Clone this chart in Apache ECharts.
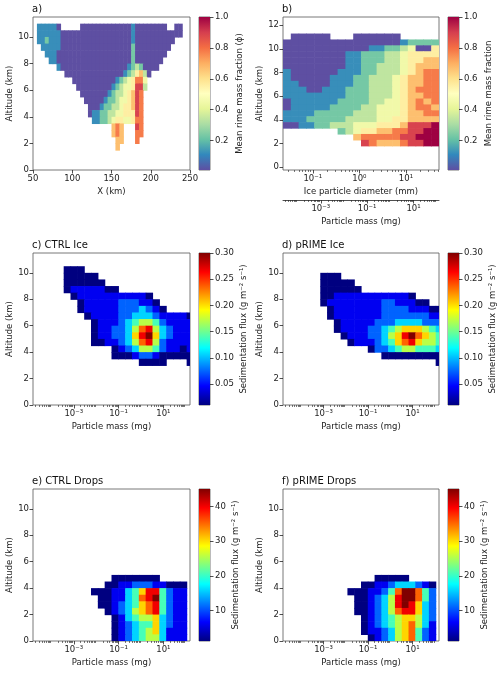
<!DOCTYPE html>
<html>
<head>
<meta charset="UTF-8">
<script src="https://cdn.jsdelivr.net/npm/echarts@6/dist/echarts.min.js"></script>
<style>
  * { margin: 0; padding: 0 }
  html, body { width: 500px; height: 673px; background: #fff; }
  #main { width: 500px; height: 673px; }
</style>
</head>
<body>
<div id="main"></div>
<script>
// ---------- data (digits 0-9 = colour level, '.' = no data, '|' just a separator) ----------
// panel a: columns of 5 km from X=50, rows of 0.5 km, first row starts at 10.5 km
var aRowTop = 10.5;
var aRows = [
  '.111110...|..00000000|0000010000|0000..00..',
  '.111111000|0000000000|0000010000|00000000..',
  '.112111000|0000000000|0000010000|000000....',
  '..11111000|0000000000|0000020000|00000.....',
  '...1110000|0000000000|0000020000|0000......',
  '....110000|0000000000|0000020000|000.......',
  '......1000|0000000000|0000123200|00........',
  '........00|0000000000|0001235630|..........',
  '..........|0000000000|012345774.|..........',
  '..........|.000000000|123445883.|..........',
  '..........|..00000001|23345687..|..........',
  '..........|...0000012|23445687..|..........',
  '..........|....000122|33455687..|..........',
  '..........|....011223|34455587..|..........',
  '..........|.....11223|45544577..|..........',
  '..........|..........|676...87..|..........',
  '..........|..........|676...77..|..........',
  '..........|..........|.66...7...|..........',
  '..........|..........|.6........|..........'
];
// panel b: 20 diameter bins (log10 mm), rows of 0.5 km, first row starts at 10.8 km
var bRowTop = 10.8;
var bRows = [
  '.00000...000000.....',
  '00000000000000012222',
  '00000000000112234005',
  '00000000112223345555',
  '00000000112223345566',
  '00000000112233345666',
  '10000001112233345677',
  '10000011122333456677',
  '11000011122333456677',
  '11100111222333456777',
  '11111111222333456677',
  '01111112222334456767',
  '01111122223344456776',
  '11112222233344456677',
  '11122222333344556666',
  '00112233344455568889',
  '.......2345566778899',
  '.........67777788999',
  '..........8766678899'
];
// panels c-f: 19 mass bins (log10 mg), rows of 0.5 km
var cRowTop = 10.0;
var cRows = [
  '000................',
  '00000..............',
  '000000.............',
  '01111100...........',
  '.011111111110......',
  '..011111222110.....',
  '..0111112223210....',
  '...0111122333211110',
  '....011123455421111',
  '....011223578532111',
  '....011223689632111',
  '....001123578521111',
  '.......012355421101',
  '.......000122100000',
  '...........0000...0'
];
var dRowTop = 9.5;
var dRows = [
  '.000...............',
  '.00000.............',
  '.000000............',
  '.00111111111110....',
  '.0111111112211100..',
  '..01111111222211100',
  '..01111111222222211',
  '...0111112223333222',
  '...0111122345666543',
  '....011122356897654',
  '.....01112346786554',
  '........02234554443',
  '..........000000000',
  '..................0'
];
var eRowTop = 4.5;
var eRows = [
  '.......0000000.....',
  '......001122211000.',
  '....00011346884211.',
  '.....0011347894211.',
  '.....0012346784211.',
  '......012356784211.',
  '.......01345563211.',
  '.......01234463211.',
  '.......01234563111.',
  '.......01234553111.'
];
var fRowTop = 4.5;
var fRows = [
  '.........00000.....',
  '.......00112333210.',
  '.....0001124799742.',
  '......001235899742.',
  '......001235898632.',
  '......001235788632.',
  '.......01234566532.',
  '.......01234567531.',
  '.......01123567421.',
  '........0123567421.'
];

var aTicksX = [50, 100, 150, 200, 250];
var altTicks = [0, 2, 4, 6, 8, 10];
var bAltTicks = [0, 2, 4, 6, 8, 10, 12];
var diamTicks = [-1, 0, 1];
var massTicks = [-3, -1, 1];
var rimeTicks = [0.2, 0.4, 0.6, 0.8, 1.0];
var iceFluxTicks = [0.05, 0.10, 0.15, 0.20, 0.25, 0.30];
var dropFluxTicks = [10, 20, 30, 40];

var spectralR = ['#5e4fa2', '#3288bd', '#66c2a5', '#abdda4', '#e6f598', '#ffffbf',
                 '#fee08b', '#fdae61', '#f46d43', '#d53e4f', '#9e0142'];
var jet = [[0, '#000080'], [0.125, '#0000ff'], [0.375, '#00ffff'],
           [0.625, '#ffff00'], [0.875, '#ff0000'], [1, '#800000']];
var spectralStops = spectralR.map(function (c, i) { return [i / (spectralR.length - 1), c]; });

var FONT = 'DejaVu Sans';

// ---------- helpers ----------
function hex(c) { return [parseInt(c.substr(1, 2), 16), parseInt(c.substr(3, 2), 16), parseInt(c.substr(5, 2), 16)]; }
function cmapColor(stops, t) {
  t = Math.max(0, Math.min(1, t));
  for (var i = 1; i < stops.length; i++) {
    if (t <= stops[i][0]) {
      var a = stops[i - 1], b = stops[i];
      var f = (t - a[0]) / (b[0] - a[0]);
      var ca = hex(a[1]), cb = hex(b[1]);
      return 'rgb(' + ca.map(function (v, k) { return Math.round(v + (cb[k] - v) * f); }).join(',') + ')';
    }
  }
  return stops[stops.length - 1][1];
}
function supStr(n) {
  var m = { '-': '⁻', '0': '⁰', '1': '¹', '2': '²', '3': '³', '4': '⁴', '5': '⁵' };
  return String(n).split('').map(function (ch) { return m[ch]; }).join('');
}
function logLabel(v) { return '10' + supStr(Math.round(v)); }
function minorLog(lo, hi) {
  var out = [];
  for (var d = Math.floor(lo); d <= Math.ceil(hi); d++) {
    for (var k = 2; k <= 9; k++) {
      var v = d + Math.log10(k);
      if (v > lo && v < hi) out.push(v);
    }
  }
  return out;
}
// turn rows of level digits into cells [x0, x1, y0, y1, level]
function cells(rows, rowTop, dy, edges) {
  var out = [];
  rows.forEach(function (r, i) {
    var s = r.replace(/\|/g, '');
    var y0 = rowTop - i * dy;
    for (var j = 0; j < s.length; j++) {
      if (s[j] === '.') continue;
      out.push([edges(j), edges(j + 1), y0, y0 + dy, +s[j]]);
    }
  });
  return out;
}
function cellRenderer(stops) {
  return function (params, api) {
    var p0 = api.coord([api.value(0), api.value(2)]);
    var p1 = api.coord([api.value(1), api.value(3)]);
    var shape = echarts.graphic.clipRectByRect(
      { x: p0[0], y: p1[1], width: p1[0] - p0[0] + 0.6, height: p0[1] - p1[1] + 0.6 },
      { x: params.coordSys.x, y: params.coordSys.y, width: params.coordSys.width, height: params.coordSys.height });
    if (!shape) return;
    return { type: 'rect', shape: shape, style: { fill: cmapColor(stops, api.value(4) / 9) } };
  };
}
function barRenderer(stops) {
  return function (params, api) {
    var p0 = api.coord([0, api.value(0)]);
    var p1 = api.coord([1, api.value(1)]);
    return {
      type: 'rect',
      shape: { x: p0[0], y: p1[1], width: p1[0] - p0[0], height: p0[1] - p1[1] },
      style: { fill: new echarts.graphic.LinearGradient(0, 1, 0, 0,
        stops.map(function (s) { return { offset: s[0], color: s[1] }; })) }
    };
  };
}

var massEdge = function (j) { return -3.45 + 0.305 * j; };
var diamEdge = function (j) { return -1.64 + 0.1675 * j; };
var xEdge = function (j) { return 50 + 5 * j; };

// ---------- option building ----------
var grids = [], xAxes = [], yAxes = [], series = [], titles = [];
var tickStyle = { show: true, inside: false, length: 3.5, lineStyle: { color: '#222', width: 0.8 } };
var labelStyle = { color: '#222', fontFamily: FONT, fontSize: 8.5, margin: 4 };
var nameStyle = { color: '#222', fontFamily: FONT, fontSize: 8.5 };
var noLine = { show: false, onZero: false };

function addGrid(left, top, w, h) {
  grids.push({ left: left, top: top, width: w, height: h, show: true, borderColor: '#555', borderWidth: 0.8 });
  return grids.length - 1;
}
function addAxis(list, obj) { list.push(obj); return list.length - 1; }
function minorAxis(g, lo, hi, offset) {
  return addAxis(xAxes, {
    type: 'value', gridIndex: g, min: lo, max: hi, position: 'bottom', offset: offset || 0,
    axisLine: noLine, splitLine: { show: false }, axisLabel: { show: false },
    axisTick: { show: true, length: 2, customValues: minorLog(lo, hi), lineStyle: { color: '#222', width: 0.6 } }
  });
}

function panel(p) {
  var g = addGrid(p.left, p.top, p.w, p.h);
  var xi = addAxis(xAxes, {
    type: 'value', gridIndex: g, min: p.xmin, max: p.xmax, position: 'bottom',
    name: p.xname, nameLocation: 'middle', nameGap: 17, nameTextStyle: nameStyle,
    axisLine: noLine, splitLine: { show: false },
    axisTick: Object.assign({ customValues: p.xticks }, tickStyle),
    axisLabel: Object.assign({ customValues: p.xticks, formatter: p.xlog ? logLabel : null }, labelStyle)
  });
  if (p.xlog) minorAxis(g, p.xmin, p.xmax, 0);
  var yi = addAxis(yAxes, {
    type: 'value', gridIndex: g, min: p.ymin, max: p.ymax, position: 'left',
    name: 'Altitude (km)', nameLocation: 'middle', nameGap: 17, nameTextStyle: nameStyle,
    axisLine: noLine, splitLine: { show: false },
    axisTick: Object.assign({ customValues: p.yticks }, tickStyle),
    axisLabel: Object.assign({ customValues: p.yticks }, labelStyle)
  });
  series.push({
    type: 'custom', xAxisIndex: xi, yAxisIndex: yi, renderItem: cellRenderer(p.stops),
    data: p.data, silent: true, animation: false
  });
  // colour bar
  var cg = addGrid(p.left + p.w + 9, p.top, 11, p.h);
  var cx = addAxis(xAxes, { type: 'value', gridIndex: cg, min: 0, max: 1, show: false, axisLine: noLine });
  var cy = addAxis(yAxes, {
    type: 'value', gridIndex: cg, min: p.vmin, max: p.vmax, position: 'right',
    name: p.cbname, nameLocation: 'middle', nameRotate: 90, nameGap: p.cbgap, nameTextStyle: nameStyle,
    axisLine: noLine, splitLine: { show: false },
    axisTick: Object.assign({ customValues: p.cbticks }, tickStyle),
    axisLabel: Object.assign({ customValues: p.cbticks, formatter: function (v) { return v.toFixed(p.cbdec); } },
      labelStyle, { margin: 5 })
  });
  series.push({
    type: 'custom', xAxisIndex: cx, yAxisIndex: cy, renderItem: barRenderer(p.stops),
    data: [[p.vmin, p.vmax]], silent: true, animation: false
  });
  titles.push({ text: p.title, left: p.left - 1, top: p.top - 13, padding: 0,
    textStyle: { fontFamily: FONT, fontSize: 10, fontWeight: 'normal', color: '#111' } });
  return g;
}

var L1 = 33, L2 = 283, W = 157, H = 153;
var iceName = 'Sedimentation flux (g m⁻² s⁻¹)';

panel({ title: 'a)', left: L1, top: 17, w: W, h: H, xmin: 50, xmax: 250, xticks: aTicksX, xname: 'X (km)',
  ymin: 0, ymax: 11.5, yticks: altTicks, stops: spectralStops, data: cells(aRows, aRowTop, 0.5, xEdge),
  vmin: 0.01, vmax: 1.0, cbticks: rimeTicks, cbdec: 1, cbname: 'Mean rime mass fraction (ϕ)', cbgap: 25 });

var gb = panel({ title: 'b)', left: L2, top: 17, w: W - 1, h: H, xmin: -1.64, xmax: 1.71, xticks: diamTicks, xlog: true,
  xname: 'Ice particle diameter (mm)', ymin: -0.25, ymax: 12.7, yticks: bAltTicks, stops: spectralStops,
  data: cells(bRows, bRowTop, 0.5, diamEdge),
  vmin: 0.01, vmax: 1.0, cbticks: rimeTicks, cbdec: 1, cbname: 'Mean rime mass fraction', cbgap: 25 });
// second x axis of panel b: particle mass
xAxes.push({
  type: 'value', gridIndex: gb, min: -4.63, max: 2.1, position: 'bottom', offset: 30,
  name: 'Particle mass (mg)', nameLocation: 'middle', nameGap: 17, nameTextStyle: nameStyle,
  axisLine: { show: true, onZero: false, lineStyle: { color: '#222', width: 0.8 } }, splitLine: { show: false },
  axisTick: Object.assign({ customValues: massTicks }, tickStyle),
  axisLabel: Object.assign({ customValues: massTicks, formatter: logLabel }, labelStyle)
});
minorAxis(gb, -4.63, 2.1, 30);

var massPanel = function (title, left, top, rows, rowTop, vmax, ticks, dec) {
  panel({ title: title, left: left, top: top, w: left === L1 ? W : W - 1, h: H - 1, xmin: -4.82, xmax: 2.19,
    xticks: massTicks, xlog: true, xname: 'Particle mass (mg)', ymin: 0, ymax: 11.5, yticks: altTicks,
    stops: jet, data: cells(rows, rowTop, 0.5, massEdge),
    vmin: vmax < 1 ? 0.01 : 1.2, vmax: vmax, cbticks: ticks, cbdec: dec, cbname: iceName, cbgap: dec ? 29 : 21 });
};
massPanel('c) CTRL Ice', L1, 253, cRows, cRowTop, 0.30, iceFluxTicks, 2);
massPanel('d) pRIME Ice', L2, 253, dRows, dRowTop, 0.30, iceFluxTicks, 2);
massPanel('e) CTRL Drops', L1, 489, eRows, eRowTop, 45, dropFluxTicks, 0);
massPanel('f) pRIME Drops', L2, 489, fRows, fRowTop, 45, dropFluxTicks, 0);

var chart = echarts.init(document.getElementById('main'));
chart.setOption({
  animation: false,
  backgroundColor: '#fff',
  title: titles,
  grid: grids,
  xAxis: xAxes,
  yAxis: yAxes,
  series: series
});
</script>
</body>
</html>
